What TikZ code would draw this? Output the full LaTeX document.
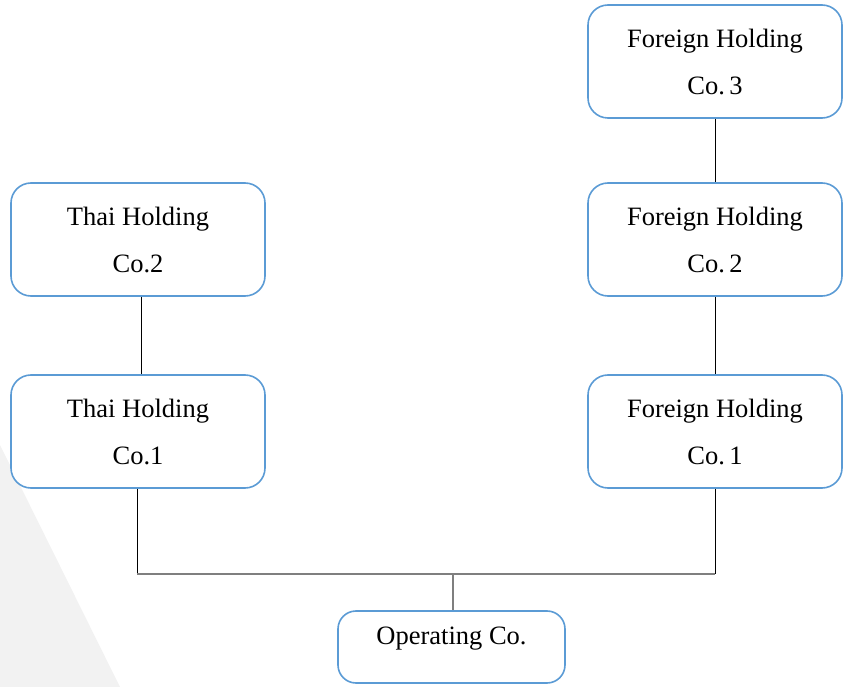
\documentclass[tikz,border=0pt]{standalone}
\usepackage{fontspec}
\setmainfont{Liberation Serif}
\definecolor{boxblue}{HTML}{5B9BD5}
\definecolor{bggray}{HTML}{F2F2F2}
\definecolor{linegray}{HTML}{7F7F7F}
\tikzset{
  cobox/.style={draw=boxblue, line width=1.6pt, rounded corners=20pt, fill=white,
    minimum width=254pt, minimum height=113pt, inner sep=0pt, align=center,
    font=\fontsize{26.5}{47}\selectfont},
  opbox/.style={draw=boxblue, line width=1.6pt, rounded corners=18pt, fill=white,
    minimum width=227pt, minimum height=72pt, inner sep=0pt},
  conn/.style={draw=black, line width=0.8pt},
  conng/.style={draw=linegray, line width=1.2pt}
}
\begin{document}
\begin{tikzpicture}[x=1pt,y=-1pt]
\useasboundingbox (0,0) rectangle (847,687);
\fill[bggray] (0,445) -- (120,687) -- (0,687) -- cycle;
\node[cobox] (f3) at (715,61.5) {Foreign Holding\\Co.\,3};
\node[cobox] (t2) at (138,239.5) {Thai Holding\\Co.2};
\node[cobox] (f2) at (715,239.5) {Foreign Holding\\Co.\,2};
\node[cobox] (t1) at (138,431.5) {Thai Holding\\Co.1};
\node[cobox] (f1) at (715,431.5) {Foreign Holding\\Co.\,1};
\node[opbox] (op) at (451.5,647) {};
\node[font=\fontsize{26.5}{30}\selectfont, inner sep=0pt] (optext) at (451.5,639) {Operating Co.};
\coordinate (j) at (453,574);
\draw[conn] (f3.south) -- (f2.north);
\draw[conn] (f2.south) -- (f1.north);
\draw[conn] ([xshift=3pt]t2.south) -- ([xshift=3pt]t1.north);
\draw[conn] ([xshift=-1pt]t1.south) -- ([xshift=-1pt]t1.south |- j);
\draw[conn] (f1.south) -- (f1.south |- j);
\draw[conng] ([xshift=-1pt]t1.south |- j) -- (f1.south |- j);
\draw[conng] (j) -- (j |- op.north);
\end{tikzpicture}
\end{document}
